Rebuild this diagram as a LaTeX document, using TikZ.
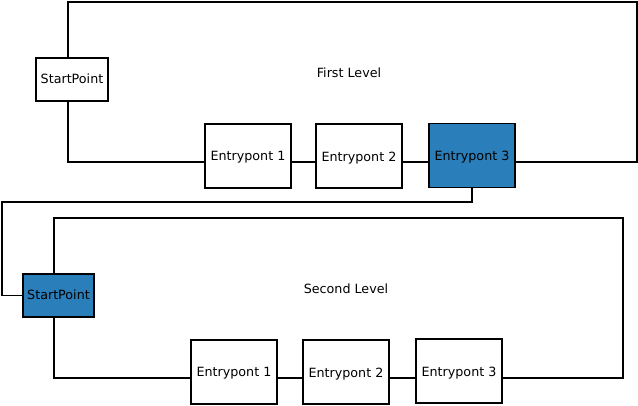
\documentclass[tikz,border=0pt]{standalone}
\usepackage{fontspec}
\setmainfont{DejaVu Sans}
\definecolor{lvlblue}{RGB}{42,126,185}
\tikzset{
	pbox/.style={draw, line width=1.3pt, rectangle, inner sep=0pt, minimum width=86pt, minimum height=64pt, font=\fontsize{12.7}{14}\selectfont, text height=1.3em, text depth=0.24em},
	sbox/.style={pbox, minimum width=72pt, minimum height=43pt, text height=0.76em, text depth=0.02em},
	hot/.style={fill=lvlblue},
	wire/.style={-, line width=1.3pt}
}
\begin{document}
\begin{tikzpicture}[x=1pt, y=-1pt]
				\useasboundingbox (0,0) rectangle (638,406);
				
				% first level
				\node[] (lblFirst) at (349,73) {\fontsize{12.7}{14}\selectfont First Level};
				\node[sbox] (StartA) at (72,79.5) {StartPoint};
				\node[pbox, text height=1.2em] (EntryAa) at (248,156) {Entrypont 1};
				\node[pbox] (EntryAb) at (359,156) {Entrypont 2};
				\node[pbox, hot] (EntryAc) at (472,155.5) {Entrypont 3};
				\coordinate (railA) at (637,2);
				
				\draw[wire] ([xshift=-4pt]StartA.south) |- ([yshift=-6pt]EntryAa.west);
				\draw[wire] ([yshift=-6pt]EntryAa.east) -- ([yshift=-6pt]EntryAb.west);
				\draw[wire] ([yshift=-6pt]EntryAb.east) -- ([yshift=-6.5pt]EntryAc.west);
				\draw[wire] ([xshift=-4pt]StartA.north) |- (railA) |- ([yshift=-6.5pt]EntryAc.east);
				
				% second level
				\node[] (lblSecond) at (346,289) {\fontsize{12.7}{14}\selectfont Second Level};
				\node[sbox, hot, minimum width=71pt] (StartB) at (58.5,295.5) {StartPoint};
				\node[pbox, text height=1.2em] (EntryBa) at (234,372) {Entrypont 1};
				\node[pbox] (EntryBb) at (346,372) {Entrypont 2};
				\node[pbox] (EntryBc) at (459,371) {Entrypont 3};
				\coordinate (railB) at (623,218);
				
				% jump down to the second level
				\coordinate (railJump) at (2,202);
				\draw[wire] (EntryAc.south) |- (railJump) |- (StartB.west);
				
				\draw[wire] ([xshift=-4.5pt]StartB.south) |- ([yshift=-6pt]EntryBa.west);
				\draw[wire] ([yshift=-6pt]EntryBa.east) -- ([yshift=-6pt]EntryBb.west);
				\draw[wire] ([yshift=-6pt]EntryBb.east) -- ([yshift=-7pt]EntryBc.west);
				\draw[wire] ([xshift=-4.5pt]StartB.north) |- (railB) |- ([yshift=-7pt]EntryBc.east);
				
\end{tikzpicture}
\end{document}
